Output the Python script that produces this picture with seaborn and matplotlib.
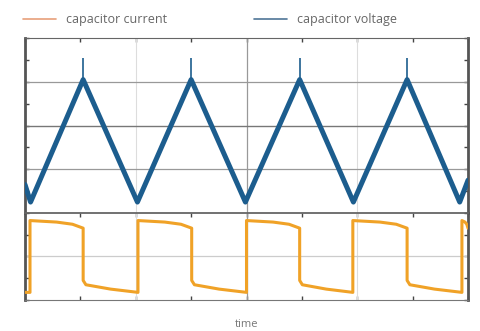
import numpy as np
import pandas as pd
import matplotlib
matplotlib.use("Agg")
import matplotlib.pyplot as plt
import seaborn as sns

# => Data (x in half-divisions, y in small-tick units)
volt_t = [0.0, 0.1, 1.05, 2.03, 3.0, 3.98, 4.96, 5.93, 6.9, 7.85, 8.0]
volt_v = [1.3, 0.5, 6.1, 0.5, 6.1, 0.5, 6.1, 0.5, 6.1, 0.5, 1.5]
spike_t = [1.05, 3.0, 4.96, 6.9]
spike_v = [7.1, 7.1, 7.1, 7.1]

rise_t = [0.09, 2.04, 4.0, 5.92, 7.89]
fall_t = [1.05, 3.01, 4.96, 6.9]
high_frac = [0.0, 0.5, 0.8, 1.0]     # position inside the "on" segment
high_lvl = [3.65, 3.58, 3.48, 3.3]
low_frac = [0.0, 0.05, 0.5, 1.0]     # position inside the "off" segment
low_lvl = [0.9, 0.7, 0.5, 0.35]

# build the current trace from edges + segment shape
cur_t, cur_i = [0.0], [0.35]
edges = sorted([(t, "r") for t in rise_t] + [(t, "f") for t in fall_t])
for k, (t, kind) in enumerate(edges):
    t_next = edges[k + 1][0] if k + 1 < len(edges) else 8.0
    fr, lv = (high_frac, high_lvl) if kind == "r" else (low_frac, low_lvl)
    cur_t.append(t)
    cur_i.append(cur_i[-1])
    for f, l in zip(fr, lv):
        cur_t.append(t + f * (t_next - t))
        cur_i.append(l)

df_v = pd.DataFrame({"t": volt_t, "v": volt_v})
df_i = pd.DataFrame({"t": cur_t, "i": cur_i})

blue = "#1c5d8e"
orange = "#f0a227"

sns.set_style("white")
plt.rcParams["font.family"] = ["Open Sans", "DejaVu Sans"]
fig = plt.figure(figsize=(4.81, 3.31), dpi=100)
ax1 = fig.add_axes([0.052, 0.3565, 0.921, 0.5285])
ax2 = fig.add_axes([0.052, 0.0937, 0.921, 0.263])

sns.lineplot(data=df_v, x="t", y="v", ax=ax1, color=blue, lw=3.6, sort=False,
             estimator=None, zorder=3)
ax1.vlines(spike_t, 6.0, spike_v, color=blue, lw=1.2, zorder=3)
sns.lineplot(data=df_i, x="t", y="i", ax=ax2, color=orange, lw=2.2, sort=False,
             estimator=None, zorder=3)

for ax, ymax in [(ax1, 8), (ax2, 4)]:
    ax.set_xlim(0, 8)
    ax.set_ylim(0, ymax)
    ax.set_xlabel("")
    ax.set_ylabel("")
    ax.set_xticks([0, 2, 4, 6, 8])
    ax.set_xticks([1, 3, 5, 7], minor=True)
    ax.set_yticks(np.arange(0, ymax + 1, 1))
    ax.set_xticklabels([])
    ax.set_yticklabels([])
    ax.tick_params(which="both", direction="in", length=3, width=1, color="#444",
                   left=True, right=True, top=True, bottom=True)
    for x in [2, 6]:
        ax.axvline(x, color="#dddddd", lw=0.8, zorder=1)
    ax.axvline(4, color="#999999", lw=0.9, zorder=1)
    for s in ["left", "right"]:
        ax.spines[s].set_color("#555555")
        ax.spines[s].set_linewidth(2)
    ax.spines["top"].set_color("#666666")
    ax.spines["bottom"].set_color("#777777")

for y in [2, 6]:
    ax1.axhline(y, color="#999999", lw=0.9, zorder=1)
ax1.axhline(4, color="#777777", lw=1.0, zorder=1)
ax1.spines["bottom"].set_visible(False)
ax1.tick_params(bottom=False, which="both")
ax2.axhline(2, color="#cccccc", lw=0.9, zorder=1)
ax2.spines["top"].set_linewidth(1.3)

ax2.set_xlabel("time", color="#777777", fontsize=8, labelpad=10)

handles = [plt.Line2D([], [], color="#e8a07a", lw=1.2),
           plt.Line2D([], [], color="#4f7597", lw=1.2)]
fig.legend(handles, ["capacitor current", "capacitor voltage"], loc="upper left",
           bbox_to_anchor=(0.025, 0.995), ncol=2, frameon=False, fontsize=9,
           handlelength=2.6, columnspacing=7.0, labelcolor="#666666")

fig.savefig("out.png", dpi=100)
